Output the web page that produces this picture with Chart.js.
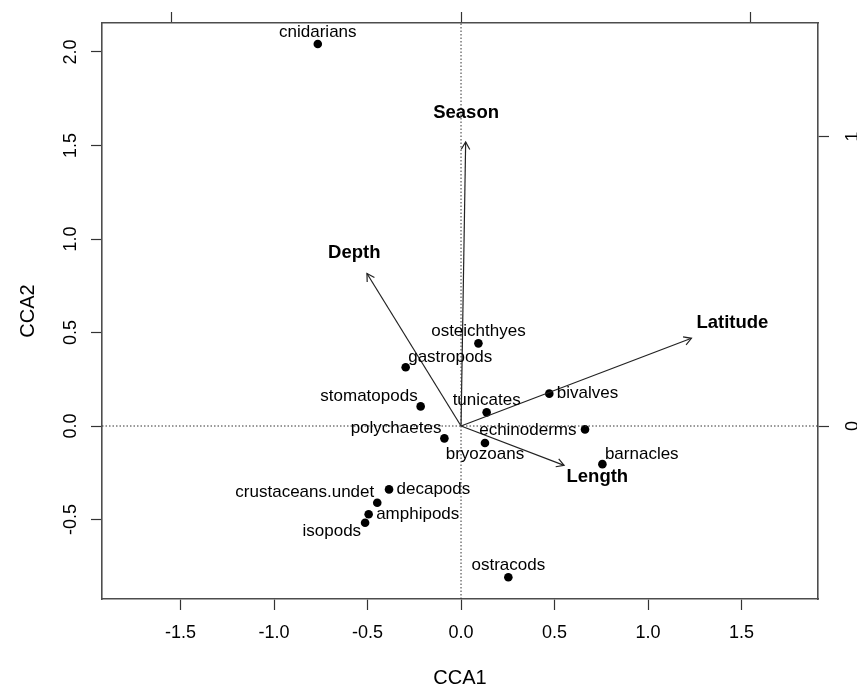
<!DOCTYPE html>
<html lang="en">
<head>
<meta charset="UTF-8">
<title>CCA biplot</title>
<script src="https://cdn.jsdelivr.net/npm/chart.js@4.4.0/dist/chart.umd.min.js"></script>
<style>
  html, body { margin: 0; padding: 0; background: #fff; }
  #wrap { width: 857px; height: 688px; }
</style>
</head>
<body>
<div id="wrap"><canvas id="ccaChart" width="857" height="688"></canvas></div>
<script>
// species scores
const species = ['cnidarians', 'osteichthyes', 'gastropods', 'stomatopods', 'tunicates', 'bivalves',
  'echinoderms', 'polychaetes', 'bryozoans', 'barnacles', 'decapods', 'crustaceans.undet',
  'amphipods', 'isopods', 'ostracods'];
const cca1 = [-0.766, 0.093, -0.296, -0.216, 0.137, 0.472, 0.663, -0.089, 0.128, 0.756, -0.385, -0.448, -0.494, -0.513, 0.253];
const cca2 = [2.043, 0.442, 0.314, 0.105, 0.073, 0.173, -0.018, -0.066, -0.091, -0.204, -0.339, -0.410, -0.472, -0.517, -0.809];

// environmental variables, biplot scores (top / right axis units)
const variables = ['Season', 'Depth', 'Latitude', 'Length'];
const bp1 = [0.016, -0.325, 0.796, 0.356];
const bp2 = [0.981, 0.527, 0.303, -0.136];
// where the variable names are written (main axis units)
const varLabX = [0.027, -0.571, 1.451, 0.729];
const varLabY = [1.675, 0.924, 0.552, -0.274];

// tick labels
const xTicks = [-1.5, -1.0, -0.5, 0.0, 0.5, 1.0, 1.5];
const yTicks = [-0.5, 0.0, 0.5, 1.0, 1.5, 2.0];
const x2Ticks = [-1, 0, 1];
const y2Ticks = [0, 1];

// axis limits and arrow multiplier
const X_MIN = -1.92, X_MAX = 1.909;
const Y_MIN = -0.925, Y_MAX = 2.155;
const MUL = 1.548;

// label placement around each species point (style only)
const labelPos = ['top', 'top', 'topright', 'topleft', 'top', 'right', 'left', 'topleft',
  'bottom', 'topright', 'right', 'topleft', 'right', 'bottomleft', 'top'];
const offsets = {
  top:        { dx: 0,    dy: -12, align: 'center' },
  bottom:     { dx: 0,    dy: 11,  align: 'center' },
  right:      { dx: 7.5,  dy: 0,   align: 'left' },
  left:       { dx: -8.5, dy: 1,   align: 'right' },
  topright:   { dx: 2.5,  dy: -10, align: 'left' },
  topleft:    { dx: -3,   dy: -10, align: 'right' },
  bottomleft: { dx: -4,   dy: 9,   align: 'right' }
};

const FONT = "'Liberation Sans', Arial, Helvetica, sans-serif";
Chart.defaults.font.family = FONT;
Chart.defaults.color = '#000';

const AXIS_COL = '#4d4d4d';
const TICK_COL = '#333';

function axisOpts(position, ticksArr, size, extra) {
  const isX = position === 'top' || position === 'bottom';
  return Object.assign({
    type: 'linear',
    position: position,
    afterBuildTicks: s => { s.ticks = ticksArr.map(v => ({ value: v })); },
    afterFit: s => {
      if (isX) s.height = size; else s.width = size;
      s.paddingTop = 0; s.paddingBottom = 0; s.paddingLeft = 0; s.paddingRight = 0;
    },
    grid: { drawOnChartArea: false, drawTicks: true, tickLength: 11, tickColor: TICK_COL, tickWidth: 1.2 },
    border: { display: true, color: AXIS_COL, width: 1.6 }
  }, extra);
}

// zero reference lines
const zeroLines = [
  { data: [{ x: X_MIN, y: 0 }, { x: X_MAX, y: 0 }] },
  { data: [{ x: 0, y: Y_MIN }, { x: 0, y: Y_MAX }] }
].map(d => Object.assign(d, {
  type: 'line', showLine: true, borderColor: '#333', borderWidth: 1,
  borderDash: [1.5, 2], pointRadius: 0, fill: false
}));

// arrows for environmental variables
const arrowSets = variables.map((v, i) => ({
  type: 'line',
  label: v,
  data: [{ x: 0, y: 0 }, { x: bp1[i] * MUL, y: bp2[i] * MUL }],
  showLine: true, borderColor: '#222', borderWidth: 1.2, pointRadius: 0, fill: false
}));

const speciesSet = {
  type: 'scatter',
  label: 'species',
  data: species.map((s, i) => ({ x: cca1[i], y: cca2[i] })),
  pointRadius: 4.3,
  pointHoverRadius: 4.3,
  backgroundColor: '#000',
  borderWidth: 0
};

const labelPlugin = {
  id: 'biplotLabels',
  afterDatasetsDraw(chart) {
    const ctx = chart.ctx;
    const xs = chart.scales.x, ys = chart.scales.y;
    ctx.save();

    // arrow heads
    ctx.strokeStyle = '#222';
    ctx.lineWidth = 1.2;
    const first = zeroLines.length;
    variables.forEach((v, i) => {
      const pts = chart.getDatasetMeta(first + i).data;
      const p0 = pts[0], p1 = pts[1];
      const ang = Math.atan2(p1.y - p0.y, p1.x - p0.x);
      const len = 8.5, spread = Math.PI / 6;
      ctx.beginPath();
      ctx.moveTo(p1.x - len * Math.cos(ang - spread), p1.y - len * Math.sin(ang - spread));
      ctx.lineTo(p1.x, p1.y);
      ctx.lineTo(p1.x - len * Math.cos(ang + spread), p1.y - len * Math.sin(ang + spread));
      ctx.stroke();
    });

    // variable names
    ctx.fillStyle = '#000';
    ctx.textBaseline = 'middle';
    ctx.textAlign = 'center';
    ctx.font = 'bold 18.5px ' + FONT;
    variables.forEach((v, i) => {
      ctx.fillText(v, xs.getPixelForValue(varLabX[i]), ys.getPixelForValue(varLabY[i]));
    });

    // species names
    ctx.font = '17px ' + FONT;
    const meta = chart.getDatasetMeta(chart.data.datasets.length - 1);
    species.forEach((s, i) => {
      const p = meta.data[i];
      const o = offsets[labelPos[i]];
      ctx.textAlign = o.align;
      ctx.fillText(s, p.x + o.dx, p.y + o.dy);
    });
    ctx.restore();
  }
};

new Chart(document.getElementById('ccaChart'), {
  type: 'scatter',
  data: { datasets: [...zeroLines, ...arrowSets, speciesSet] },
  options: {
    responsive: false,
    animation: false,
    layout: { padding: 0 },
    plugins: { legend: { display: false }, tooltip: { enabled: false } },
    scales: {
      x: axisOpts('bottom', xTicks, 89, {
        min: X_MIN, max: X_MAX,
        ticks: { padding: 12, font: { size: 18 }, callback: v => v.toFixed(1) },
        title: { display: true, text: 'CCA1', font: { size: 20, lineHeight: 1 }, padding: { top: 0, bottom: 0 } }
      }),
      y: axisOpts('left', yTicks, 102, {
        min: Y_MIN, max: Y_MAX,
        ticks: { padding: 4, minRotation: 90, maxRotation: 90, crossAlign: 'center', font: { size: 18 }, callback: v => v.toFixed(1) },
        title: { display: true, text: 'CCA2', font: { size: 20, lineHeight: 1 }, padding: { top: 18, bottom: 0 } }
      }),
      x2: axisOpts('top', x2Ticks, 23, {
        min: X_MIN / MUL, max: X_MAX / MUL,
        ticks: { display: false }
      }),
      y2: axisOpts('right', y2Ticks, 39, {
        min: Y_MIN / MUL, max: Y_MAX / MUL,
        ticks: { padding: 19, minRotation: 90, maxRotation: 90, crossAlign: 'center', font: { size: 18 }, callback: v => String(v) }
      })
    }
  },
  plugins: [labelPlugin]
});
</script>
</body>
</html>
